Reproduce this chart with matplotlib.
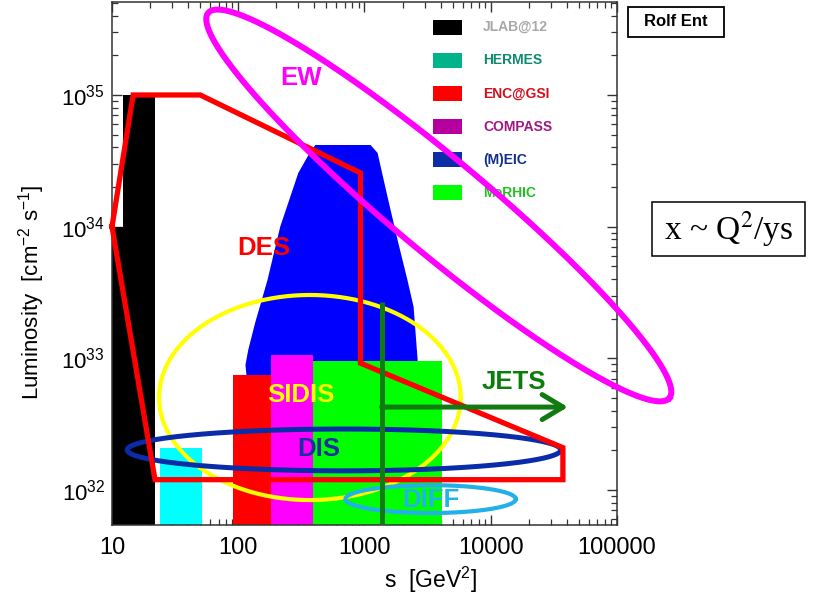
import numpy as np
import matplotlib
matplotlib.use('Agg')
import matplotlib.pyplot as plt
from matplotlib.patches import Rectangle, Polygon
from matplotlib.ticker import LogLocator, FuncFormatter, NullFormatter

plt.rcParams['font.family'] = ['Liberation Sans', 'DejaVu Sans']
plt.rcParams['mathtext.fontset'] = 'custom'
plt.rcParams['mathtext.rm'] = 'Liberation Sans'
plt.rcParams['mathtext.it'] = 'Liberation Sans:italic'
plt.rcParams['mathtext.bf'] = 'Liberation Sans:bold'

# ---------------- data ----------------
s_range = [10, 1e5]
L_range = [10**31.735, 10**35.706]

# facility bars: s low/high, luminosity bottom/top
bar_colors = ['#000000', '#000000', '#00ffff', '#ff0000', '#ff00ff', '#00ff00']
bar_s_lo = [12.2, 10, 24, 91, 183, 394]
bar_s_hi = [22, 22, 52, 183, 394, 4080]
bar_L_lo = [1e34, 1e31, 1e31, 1e31, 1e31, 1e31]
bar_L_hi = [1e35, 1e34, 2.1e32, 7.5e32, 1.06e33, 9.6e32]

# (M)EIC region outline
meic_s = [117, 114, 120, 136, 170, 215, 299, 372, 408, 1117, 1269, 1523, 1830, 2193, 2449, 2636, 2636]
meic_L = [7e32, 8.9e32, 1.16e33, 1.86e33, 3.9e33, 1.0e34, 2.56e34, 3.7e34, 4.17e34,
          4.17e34, 3.63e34, 1.68e34, 7.9e33, 3.9e33, 2.46e33, 9.7e32, 7e32]

# DES outline (red)
des_s = [10, 14.7, 50, 929, 929, 37270, 37270, 21.9, 10]
des_L = [1e34, 1e35, 1e35, 2.56e34, 9.2e32, 2.1e32, 1.2e32, 1.2e32, 1e34]

# axis-aligned ellipses: s_lo, s_hi, L_lo, L_hi
ell_names = ['SIDIS', 'DIS', 'DIFF']
ell_s_lo = [23.6, 13.2, 706]
ell_s_hi = [5780, 35900, 15800]
ell_L_lo = [8.4e31, 1.40e32, 6.7e31]
ell_L_hi = [3.03e33, 2.91e32, 1.09e32]
ell_colors = ['#ffff00', '#0a2ca8', '#22b0e8']
ell_lw = [3.0, 3.6, 3.0]

# EW ellipse: major-axis endpoints and minor/major ratio
ew_s = [57.8, 2.6e5]
ew_L = [4.2e35, 5.0e32]
ew_ratio = 0.156

# JETS line and arrow
jets_s = 1365
jets_L_top = 2.68e33
jets_arrow_L = 4.27e32
jets_arrow_s_end = 40800

# region labels
lab_text = ['EW', 'DES', 'SIDIS', 'DIS', 'DIFF', 'JETS']
lab_s = [316, 158, 316, 431, 3340, 15200]
lab_L = [1.35e35, 6.9e33, 5.3e32, 2.05e32, 8.4e31, 6.6e32]
lab_colors = ['#ff00ff', '#ff0000', '#ffff00', '#1a2fa0', '#1fb5ea', '#0a7d0a']

# legend
leg_labels = ['JLAB@12', 'HERMES', 'ENC@GSI', 'COMPASS', '(M)EIC', 'MeRHIC']
leg_face = ['#000000', '#00b38a', '#ff0000', '#b5009f', '#0b2da8', '#00ff00']
leg_text = ['#a8a8a8', '#0f8a70', '#d4101c', '#a0187e', '#10308c', '#22c022']

x_ticks = [10, 100, 1000, 10000, 100000]
x_ticklabels = ['10', '100', '1000', '10000', '100000']

# ---------------- figure ----------------
W, H = 820, 595
fig = plt.figure(figsize=(W / 100, H / 100), dpi=100)
fig.patch.set_facecolor('white')
ax = fig.add_axes([112 / W, 1 - 525 / H, 505 / W, 523 / H])
ax.set_xscale('log')
ax.set_yscale('log')
ax.set_xlim(*s_range)
ax.set_ylim(*L_range)

# MEIC polygon (behind bars)
ax.add_patch(Polygon(np.column_stack([meic_s, meic_L]), closed=True,
                     facecolor='#0000ff', edgecolor='none', zorder=1.5))

# bars
for c, x0, x1, y0, y1 in zip(bar_colors, bar_s_lo, bar_s_hi, bar_L_lo, bar_L_hi):
    ax.add_patch(Rectangle((x0, y0), x1 - x0, y1 - y0, facecolor=c,
                           edgecolor='none', zorder=2))

# axis-aligned ellipses
t = np.linspace(0, 2 * np.pi, 500)
for sl, sh, ll, lh, c, lw in zip(ell_s_lo, ell_s_hi, ell_L_lo, ell_L_hi, ell_colors, ell_lw):
    cx = (np.log10(sl) + np.log10(sh)) / 2
    rx = (np.log10(sh) - np.log10(sl)) / 2
    cy = (np.log10(ll) + np.log10(lh)) / 2
    ry = (np.log10(lh) - np.log10(ll)) / 2
    ax.plot(10 ** (cx + rx * np.cos(t)), 10 ** (cy + ry * np.sin(t)),
            color=c, lw=lw, zorder=3.5, clip_on=False)

# DES outline
ax.plot(des_s, des_L, color='#ff0000', lw=3.8, zorder=4,
        solid_joinstyle='miter', clip_on=False)

# JETS
ax.plot([jets_s, jets_s], [L_range[0], jets_L_top], color='#107b10', lw=3.6, zorder=4.5,
        solid_capstyle='butt')
ax.annotate('', xy=(jets_arrow_s_end, jets_arrow_L), xytext=(jets_s, jets_arrow_L),
            arrowprops=dict(arrowstyle='->,head_length=0.75,head_width=0.45',
                            color='#107b10', lw=3.6, mutation_scale=20,
                            shrinkA=0, shrinkB=0),
            zorder=4.5)

# legend (manual)
for i, (lab, fc, tc) in enumerate(zip(leg_labels, leg_face, leg_text)):
    yc = 0.952 - i * 0.0634
    ax.add_patch(Rectangle((0.636, yc - 0.0145), 0.057, 0.029, transform=ax.transAxes,
                           facecolor=fc, edgecolor='none', zorder=4.8))
    ax.text(0.735, yc, lab, transform=ax.transAxes, color=tc, fontsize=10,
            fontweight='bold', va='center', ha='left', zorder=4.8)

# EW ellipse (built in display space so that it is a true rotated ellipse)
fig.canvas.draw()
p1 = ax.transData.transform((ew_s[0], ew_L[0]))
p2 = ax.transData.transform((ew_s[1], ew_L[1]))
cen = (p1 + p2) / 2
d = p2 - p1
a = np.hypot(*d) / 2
u = d / (2 * a)
v = np.array([-u[1], u[0]])
b = a * ew_ratio
pts = cen + np.outer(a * np.cos(t), u) + np.outer(b * np.sin(t), v)
ew_data = ax.transData.inverted().transform(pts)
ax.plot(ew_data[:, 0], ew_data[:, 1], color='#ff00ff', lw=4.3, zorder=5, clip_on=False)

# region labels
for txt, xs, yl, c in zip(lab_text, lab_s, lab_L, lab_colors):
    ax.text(xs, yl, txt, color=c, fontsize=18.5, fontweight='bold',
            ha='center', va='center', zorder=6)

# ticks
ax.set_xticks(x_ticks)
ax.set_xticklabels(x_ticklabels)
ax.xaxis.set_minor_locator(LogLocator(base=10, subs=np.arange(2, 10)))
ax.xaxis.set_minor_formatter(NullFormatter())
ax.yaxis.set_major_locator(LogLocator(base=10))
ax.yaxis.set_minor_locator(LogLocator(base=10, subs=np.arange(2, 10)))
ax.yaxis.set_major_formatter(FuncFormatter(lambda val, pos: r'$10^{%d}$' % round(np.log10(val))))
ax.yaxis.set_minor_formatter(NullFormatter())
ax.tick_params(which='both', direction='in', top=True, right=True, color='#333333')
ax.tick_params(which='major', length=7, width=1.0)
ax.tick_params(which='minor', length=4, width=0.9)
ax.tick_params(axis='x', which='major', labelsize=17, pad=9)
ax.tick_params(axis='y', which='major', labelsize=16, pad=5)
for sp in ax.spines.values():
    sp.set_color('#333333')
    sp.set_linewidth(1.1)

ax.set_xlabel(r's  [GeV$^2$]', fontsize=16.5)
ax.xaxis.set_label_coords(0.63, -0.076)
ax.set_ylabel(r'Luminosity  [cm$^{-2}$ s$^{-1}$]', fontsize=16)
ax.yaxis.set_label_coords(-0.128, 0.445)

# boxes outside the axes
fig.patches.append(Rectangle((628 / W, 1 - 37 / H), 96 / W, 30 / H, transform=fig.transFigure,
                             facecolor='white', edgecolor='black', lw=1.3))
fig.text(676 / W, 1 - 22 / H, 'Rolf Ent', fontsize=12, fontweight='bold',
         ha='center', va='center')
fig.patches.append(Rectangle((652 / W, 1 - 256 / H), 153 / W, 54 / H, transform=fig.transFigure,
                             facecolor='white', edgecolor='black', lw=1.1))
fig.text(728 / W, 1 - 229 / H, r'x ~ Q$^2$/ys', fontsize=24, family='Liberation Serif',
         math_fontfamily='stix', ha='center', va='center')

fig.savefig('out.png', dpi=100)
